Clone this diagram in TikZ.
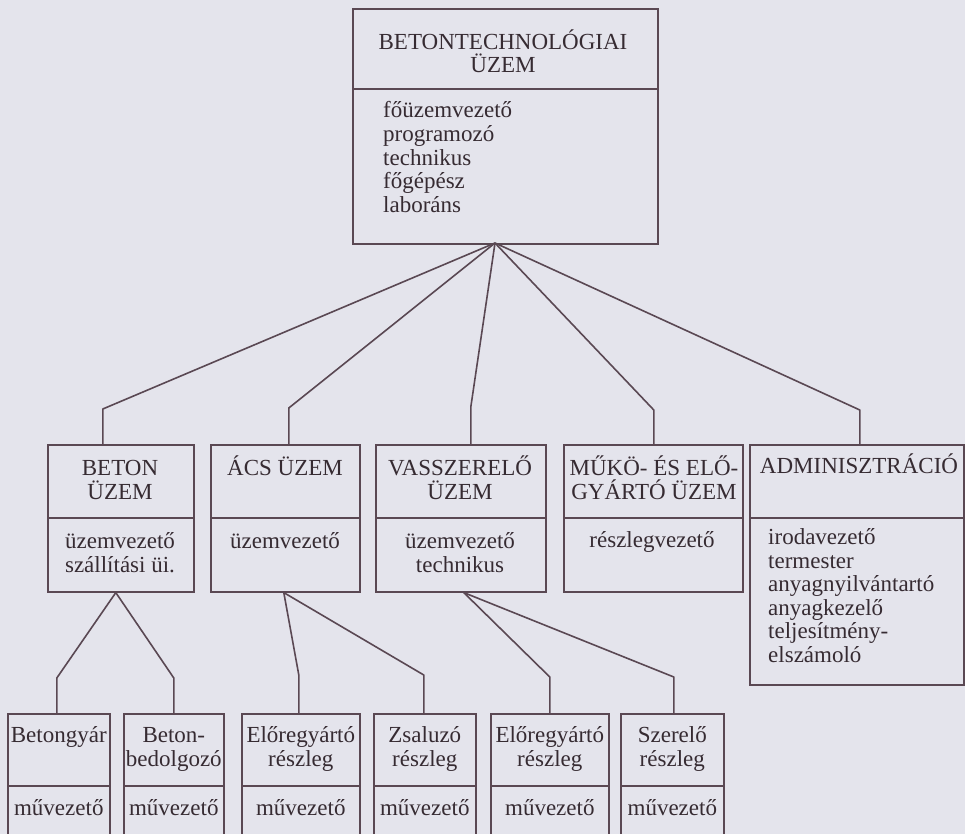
\documentclass[tikz,border=0pt]{standalone}
\usepackage{fontspec}
\setmainfont{Liberation Serif}
\definecolor{ink}{HTML}{5A4853}
\definecolor{paper}{HTML}{E4E4EC}
\newcommand{\orgfont}{\fontsize{23}{23.5}\selectfont}

\begin{document}
\begin{tikzpicture}[x=1pt,y=-1pt,
    box/.style={draw=ink,line width=1.6pt,rectangle,inner sep=0pt,anchor=north west},
    head/.style={align=center,inner sep=0pt,anchor=base,text=ink!60!black,font=\orgfont},
    list/.style={align=left,inner sep=0pt,anchor=base west,text=ink!60!black,font=\orgfont},
    link/.style={draw=ink,line width=1.6pt,line join=round}]
  \fill[paper] (0,0) rectangle (965,834);
  \useasboundingbox (0,0) rectangle (965,834);
  \clip (0,0) rectangle (965,834);

  % top unit (text nodes sit on the baseline of their last line)
  \node[box,minimum width=305pt,minimum height=235pt] (main) at (352,8) {};
  \draw[link] (main.west |- 0,89) -- (main.east |- 0,89);
  \node[head] (mainT) at (503,73) {BETONTECHNOLÓGIAI\\ÜZEM};
  \node[list] (mainL) at (383,212) {főüzemvezető\\programozó\\technikus\\főgépész\\laboráns};
  \coordinate (hub) at (495,243);

  % second row
  \node[box,minimum width=146pt,minimum height=147pt] (beton) at (47,444) {};
  \node[box,minimum width=149pt,minimum height=147pt] (acs) at (210,444) {};
  \node[box,minimum width=170pt,minimum height=147pt] (vas) at (375,444) {};
  \node[box,minimum width=179pt,minimum height=147pt] (muko) at (563,444) {};
  \node[box,minimum width=214pt,minimum height=240pt] (admin) at (749,444) {};
  \foreach \n in {beton,acs,vas,muko,admin}
    \draw[link] (\n.west |- 0,518) -- (\n.east |- 0,518);

  \node[head] (betonT) at (120,499) {BETON\\ÜZEM};
  \node[head] (betonL) at (120,572) {üzemvezető\\szállítási üi.};
  \node[head] (acsT) at (285,475) {ÁCS ÜZEM};
  \node[head] (acsL) at (285,548) {üzemvezető};
  \node[head] (vasT) at (460,499) {VASSZERELŐ\\ÜZEM};
  \node[head] (vasL) at (460,572) {üzemvezető\\technikus};
  \node[head] (mukoT) at (654,499) {MŰKÖ- ÉS ELŐ-\\GYÁRTÓ ÜZEM};
  \node[head] (mukoL) at (652,547) {részlegvezető};
  \node[head] (adminT) at (859,473) {ADMINISZTRÁCIÓ};
  \node[list] (adminL) at (768,662) {irodavezető\\termester\\anyagnyilvántartó\\anyagkezelő\\teljesítmény-\\elszámoló};

  \draw[link] ([xshift=-18pt]beton.north) -- ++(0,-35) -- (hub);
  \draw[link] ([xshift=3.5pt]acs.north) -- ++(0,-36) -- (hub);
  \draw[link] ([xshift=10pt]vas.north) -- ++(0,-37) -- (hub);
  \draw[link] ([xshift=0.5pt]muko.north) -- ++(0,-34) -- (hub);
  \draw[link] ([xshift=3pt]admin.north) -- ++(0,-34) -- (hub);

  % bottom row
  \node[box,minimum width=102pt,minimum height=150pt] (gyar) at (7,713) {};
  \node[box,minimum width=100pt,minimum height=150pt] (bedolg) at (123,713) {};
  \node[box,minimum width=118pt,minimum height=150pt] (elore) at (241,713) {};
  \node[box,minimum width=102pt,minimum height=150pt] (zsalu) at (373,713) {};
  \node[box,minimum width=118pt,minimum height=150pt] (eloreb) at (490,713) {};
  \node[box,minimum width=103pt,minimum height=150pt] (szer) at (620,713) {};
  \foreach \n in {gyar,bedolg,elore,zsalu,eloreb,szer} {
    \draw[link] (\n.west |- 0,786) -- (\n.east |- 0,786);
    \node[head] (\n M) at ([yshift=-102pt]\n.north) {művezető};
  }
  \node[head] (gyarT) at ([yshift=-29pt]gyar.north) {Betongyár};
  \node[head] (bedolgT) at ([yshift=-53pt]bedolg.north) {Beton-\\bedolgozó};
  \node[head] (eloreT) at ([yshift=-53pt]elore.north) {Előregyártó\\részleg};
  \node[head] (zsaluT) at ([yshift=-53pt]zsalu.north) {Zsaluzó\\részleg};
  \node[head] (elorebT) at ([yshift=-53pt]eloreb.north) {Előregyártó\\részleg};
  \node[head] (szerT) at ([yshift=-53pt]szer.north) {Szerelő\\részleg};

  \draw[link] ([xshift=-2pt]gyar.north) -- ++(0,-35) -- ([xshift=-5pt]beton.south);
  \draw[link] (bedolg.north) -- ++(0,-35) -- ([xshift=-5pt]beton.south);
  \draw[link] ([xshift=-2pt]elore.north) -- ++(0,-38) -- ([xshift=-1.5pt]acs.south);
  \draw[link] ([xshift=-1pt]zsalu.north) -- ++(0,-38) -- ([xshift=-1.5pt]acs.south);
  \draw[link] (eloreb.north) -- ++(0,-36) -- ([xshift=3pt]vas.south);
  \draw[link] ([xshift=1.5pt]szer.north) -- ++(0,-36) -- ([xshift=3pt]vas.south);
\end{tikzpicture}
\end{document}
